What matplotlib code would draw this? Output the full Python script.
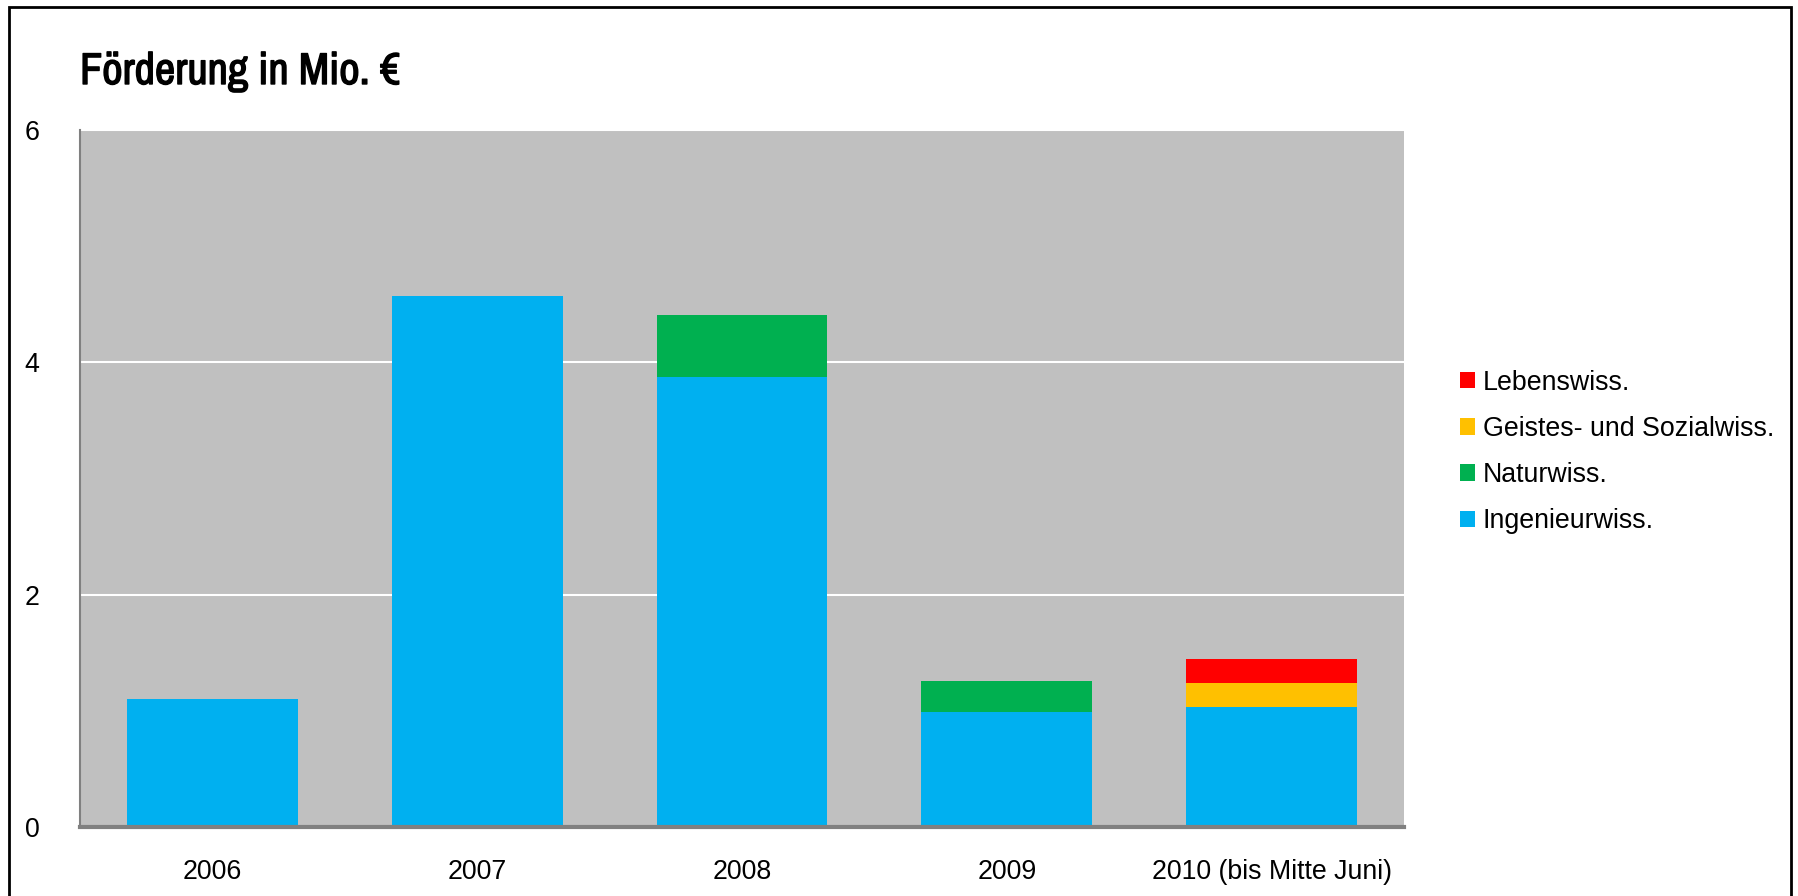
import numpy as np
import matplotlib
matplotlib.use("Agg")
import matplotlib.pyplot as plt
import matplotlib.patheffects as pe
from matplotlib.patches import Rectangle

jahre = ["2006", "2007", "2008", "2009", "2010 (bis Mitte Juni)"]
ingenieur = [1.10, 4.57, 3.87, 0.99, 1.03]
natur = [0.00, 0.00, 0.54, 0.27, 0.00]
geistes = [0.00, 0.00, 0.00, 0.00, 0.21]
leben = [0.00, 0.00, 0.00, 0.00, 0.21]
yticks = [0, 2, 4, 6]

farben = {"Ingenieurwiss.": "#00B0F0", "Naturwiss.": "#00B050",
          "Geistes- und Sozialwiss.": "#FFC000", "Lebenswiss.": "#FF0000"}

plt.rcParams['font.family'] = ['Liberation Sans', 'DejaVu Sans']

fig = plt.figure(figsize=(17.98, 8.96), dpi=100)
ax = fig.add_axes([80/1798, 1 - 827/896, (1404-80)/1798, (827-130)/896])

x = np.arange(len(jahre))
w = 0.645
unten = np.zeros(len(jahre))
handles = []
for name, werte in [("Ingenieurwiss.", ingenieur), ("Naturwiss.", natur),
                    ("Geistes- und Sozialwiss.", geistes), ("Lebenswiss.", leben)]:
    b = ax.bar(x, werte, w, bottom=unten, color=farben[name], label=name, zorder=3)
    unten += np.array(werte)
    handles.append(b)

ax.set_facecolor("#C0C0C0")
ax.set_xlim(-0.5, 4.5)
ax.set_ylim(0, 6)
ax.set_yticks(yticks)
ax.set_yticklabels([str(t) for t in yticks], fontsize=19.3, ha="center")
ax.set_xticks(x)
ax.set_xticklabels(jahre, fontsize=19.3)
ax.tick_params(axis="y", length=0, pad=34.5)
ax.tick_params(axis="x", length=0, pad=23)
ax.grid(axis="y", color="white", linewidth=1.5, zorder=1)
for s in ["top", "right"]:
    ax.spines[s].set_visible(False)
ax.spines["left"].set_color("#808080")
ax.spines["left"].set_linewidth(1.5)
ax.spines["bottom"].set_color("#808080")
ax.spines["bottom"].set_linewidth(3)
ax.spines["bottom"].set_zorder(4)

leg = fig.legend(handles[::-1], [h.get_label() for h in handles[::-1]],
                 loc="center left", bbox_to_anchor=(1436/1798, 1 - 452/896),
                 frameon=False, fontsize=19.3, handlelength=0.55, handleheight=0.55,
                 handletextpad=0.3, labelspacing=0.75)

# Titel etwas kraeftiger (schmale Schrift hat kein Bold)
fig.text(80/1798, 1 - 72/896, "Förderung in Mio. €", fontsize=32,
         family=['Liberation Sans Narrow', 'Archivo Narrow', 'DejaVu Sans'],
         va="center", path_effects=[pe.withStroke(linewidth=1.0, foreground="black")])

fig.patches.append(Rectangle((9/1798, -0.05), (1791-9)/1798, 1.05 - 7/896,
                             transform=fig.transFigure, fill=False,
                             edgecolor="black", linewidth=2))

fig.savefig("out.png", dpi=100)
